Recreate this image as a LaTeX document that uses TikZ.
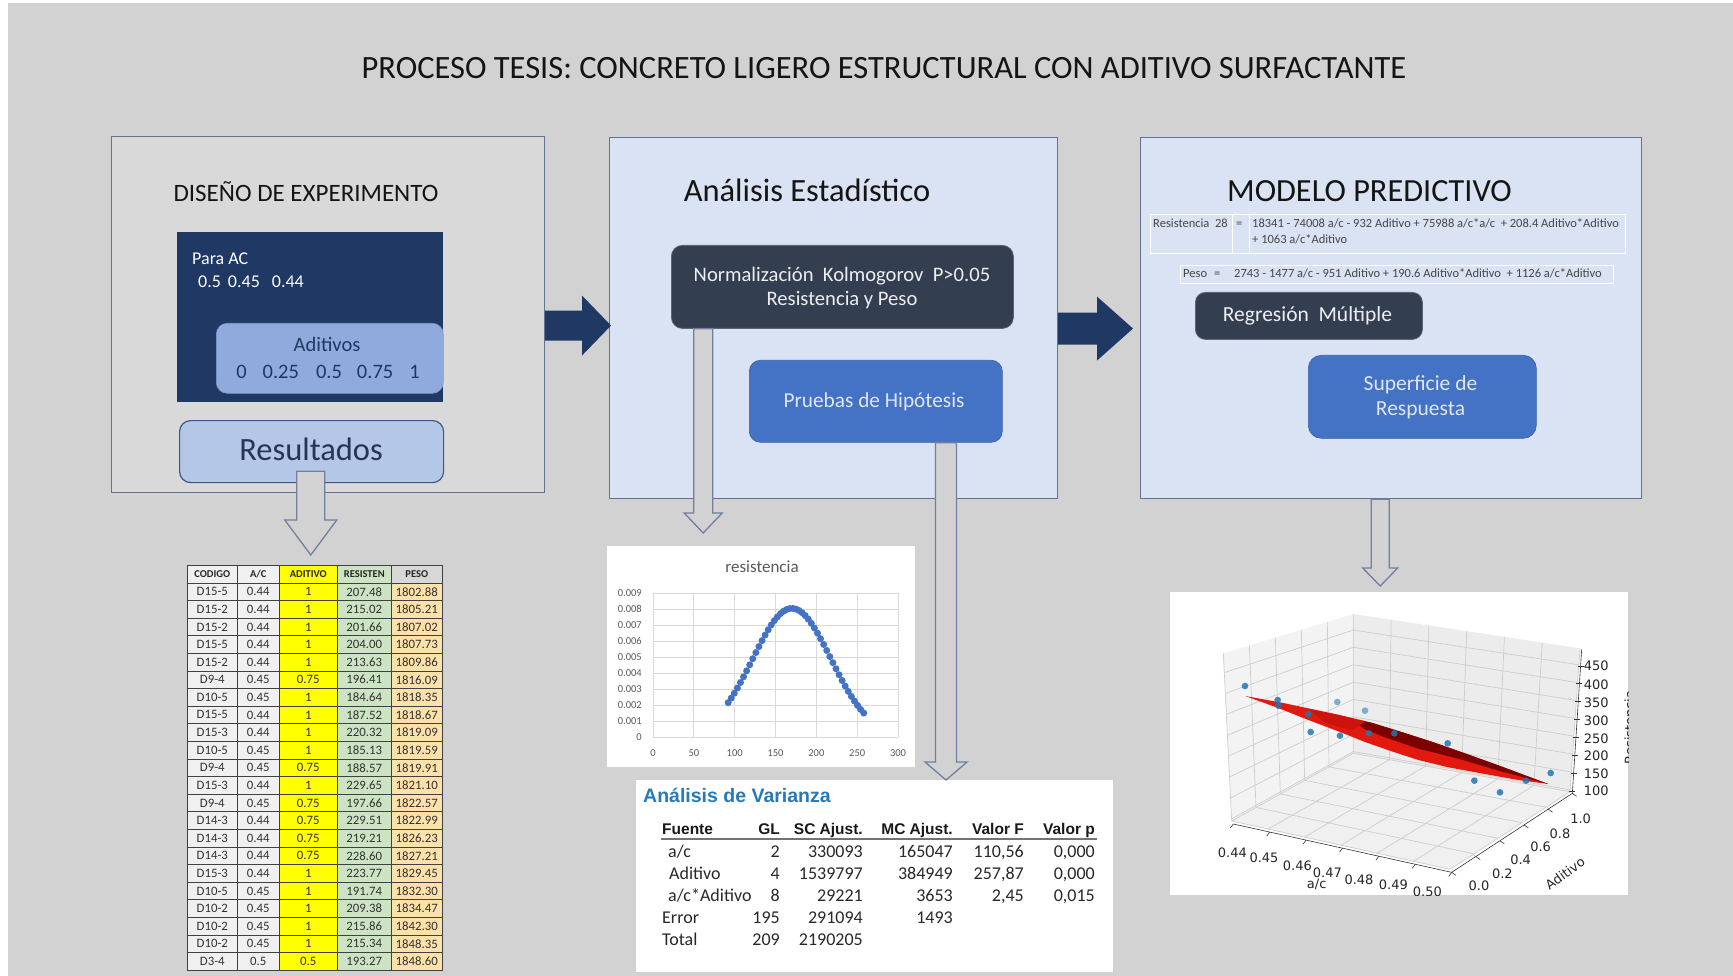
\documentclass[tikz,border=0pt]{standalone}
\usepackage{fontspec}
\setmainfont{Carlito}
\newfontfamily\arialf{Liberation Sans}
\newfontfamily\dvs{DejaVu Sans}
\usetikzlibrary{calc}
\newcommand\fsz[2]{\fontsize{#1}{#2}\selectfont}
\definecolor{txtblack}{RGB}{20,20,20}
\definecolor{bggrey}{RGB}{210,210,210}
\definecolor{boxgrey}{RGB}{217,217,217}
\definecolor{paleblue}{RGB}{218,227,243}
\definecolor{panelline}{RGB}{100,114,140}
\definecolor{navy}{RGB}{31,56,100}
\definecolor{slate}{RGB}{51,63,80}
\definecolor{midblue}{RGB}{68,114,196}
\definecolor{adblue}{RGB}{143,170,220}
\definecolor{resblue}{RGB}{180,199,231}
\definecolor{resline}{RGB}{62,86,135}
\definecolor{restext}{RGB}{38,52,85}
\definecolor{arrline}{RGB}{112,128,158}
\definecolor{lighttext}{RGB}{236,238,242}
\definecolor{bluetext}{RGB}{222,230,245}
\definecolor{eqtext}{RGB}{70,70,70}
\definecolor{tblgrey}{RGB}{240,240,240}
\definecolor{tblhgrey}{RGB}{215,215,215}
\definecolor{tblyellow}{RGB}{255,255,0}
\definecolor{tblgreen}{RGB}{205,228,196}
\definecolor{tblorange}{RGB}{252,226,170}
\definecolor{tbltext}{RGB}{50,50,50}
\definecolor{chgrid}{RGB}{217,217,217}
\definecolor{chtext}{RGB}{89,89,89}
\definecolor{mkblue}{RGB}{68,114,196}
\definecolor{anovablue}{RGB}{38,121,186}
\definecolor{antext}{RGB}{40,40,40}
\definecolor{paneA}{RGB}{243,243,243}
\definecolor{paneB}{RGB}{236,236,236}
\definecolor{paneC}{RGB}{240,240,240}
\definecolor{gridthree}{RGB}{205,205,205}
\definecolor{surfred}{RGB}{225,25,15}
\definecolor{surfdark}{RGB}{125,0,0}
\definecolor{ptblue}{RGB}{31,119,180}
% hollow down arrow: start, tip, half shaft, half head, head length
\newcommand\hollowdown[5]{%
  \draw[hollowarrow] let \p1=(#1), \p2=(#2) in
    (\x2-#3pt,\y1) -- (\x2+#3pt,\y1) -- (\x2+#3pt,\y2+#5pt) -- (\x2+#4pt,\y2+#5pt)
    -- (\x2,\y2) -- (\x2-#4pt,\y2+#5pt) -- (\x2-#3pt,\y2+#5pt) -- cycle;}
% filled right arrow: start, tip, half shaft, half head, head length
\newcommand\bigright[5]{%
  \fill[navy] let \p1=(#1), \p2=(#2) in
    (\x1,\y2+#3pt) -- (\x2-#5pt,\y2+#3pt) -- (\x2-#5pt,\y2+#4pt) -- (\x2,\y2)
    -- (\x2-#5pt,\y2-#4pt) -- (\x2-#5pt,\y2-#3pt) -- (\x1,\y2-#3pt) -- cycle;}
\begin{document}
\begin{tikzpicture}[x=1pt,y=-1pt,
  panel/.style={draw=panelline, line width=1.1pt, anchor=north west, inner sep=0pt},
  rbox/.style={rounded corners=11pt, anchor=north west, inner sep=0pt},
  lbl/.style={inner sep=0pt, anchor=base},
  hollowarrow/.style={draw=arrline, fill=bggrey, line width=1.3pt, line join=miter},
  cell/.style={draw=black!75, line width=0.6pt, inner sep=0pt, anchor=north west,
    minimum height=17.6pt, font=\fsz{12.8}{14}, text=tbltext},
  hcell/.style={cell, font=\bfseries\fsz{10.5}{12}, text=black!85},
  chlab/.style={inner sep=0pt, font=\fsz{10.5}{12}, text=chtext},
  antx/.style={inner sep=0pt, font=\fsz{18}{21}, text=antext},
  anhd/.style={inner sep=0pt, font=\arialf\bfseries\fsz{15.5}{18}, text=black!90},
  plab/.style={inner sep=0pt, font=\dvs\fsz{13}{15}, text=black!85},
  eq/.style={inner sep=0pt, anchor=base west, font=\fsz{12.5}{14}, text=eqtext},
]
\fill[white] (0,0) rectangle (1733,976);
\fill[bggrey] (8,3) rectangle (1733,976);
\useasboundingbox (0,0) rectangle (1733,976);

\node[lbl, font=\fsz{32.5}{37}, text=txtblack] (title) at (884,79)
  {PROCESO TESIS: CONCRETO LIGERO ESTRUCTURAL CON ADITIVO SURFACTANTE};

% ---------- panel 1
\node[panel, fill=boxgrey, minimum width=433.5pt, minimum height=356pt] (p1) at (110.5,136) {};
\node[lbl, font=\fsz{25}{30}, text=txtblack] (p1t) at (306,202) {DISEÑO DE EXPERIMENTO};
\node[fill=navy, anchor=north west, inner sep=0pt, minimum width=266pt, minimum height=170pt] (nv) at (177,232) {};
\node[lbl, anchor=base west, font=\fsz{18}{21}, text=white] (para) at (192,265) {Para AC};
\node[lbl, anchor=base west, font=\fsz{18}{21}, text=white] (acv) at (198,288)
  {0.5\hspace{7pt}0.45\hspace{12pt}0.44};
\node[rbox, fill=adblue, draw=adblue!85!navy, line width=0.6pt, minimum width=227pt, minimum height=70pt] (adb) at (216,323) {};
\node[lbl, font=\fsz{20.5}{24}, text=navy] (adt) at (327,352) {Aditivos};
\node[lbl, font=\fsz{20.5}{24}, text=navy] (adv) at (328,378)
  {0\hspace{16pt}0.25\hspace{17pt}0.5\hspace{15pt}0.75\hspace{16pt}1};
\node[rbox, fill=resblue, draw=resline, line width=1.2pt, minimum width=264pt, minimum height=62pt] (res) at (179,420) {};
\node[lbl, font=\fsz{32.5}{36}, text=restext] (rest) at (311,460) {Resultados};

% ---------- panel 2
\node[panel, fill=paleblue, minimum width=448pt, minimum height=361pt] (p2) at (609,137) {};
\node[lbl, font=\fsz{32.5}{37}, text=txtblack] (p2t) at (807,202) {Análisis Estadístico};
\node[rbox, fill=slate, draw=slate!80!white, line width=0.8pt, minimum width=342pt, minimum height=83pt] (norm) at (671,245) {};
\node[lbl, font=\fsz{20.6}{24}, text=lighttext] (normt) at (842,282) {Normalización\ \ Kolmogorov\ \ P>0.05};
\node[lbl, font=\fsz{20.6}{24}, text=lighttext] (normt2) at (842,306) {Resistencia y Peso};
\node[rbox, fill=midblue, draw=midblue!85!black, line width=0.6pt, minimum width=253pt, minimum height=82pt] (prb) at (749,360) {};
\node[lbl, font=\fsz{21.3}{24}, text=bluetext] (prbt) at (874,407) {Pruebas de Hipótesis};

% ---------- panel 3
\node[panel, fill=paleblue, minimum width=501.5pt, minimum height=361pt] (p3) at (1139.5,137) {};
\node[lbl, font=\fsz{32.3}{37}, text=txtblack] (p3t) at (1369.5,202) {MODELO PREDICTIVO};
\node[draw=white, line width=1pt, anchor=north west, inner sep=0pt, minimum width=475pt, minimum height=39pt] (eqR) at (1150,214) {};
\draw[white, line width=1pt] ($(eqR.north west)+(82,0)$) -- ($(eqR.south west)+(82,0)$);
\draw[white, line width=1pt] ($(eqR.north west)+(99,0)$) -- ($(eqR.south west)+(99,0)$);
\node[eq] (eqR1) at (1153,228) {Resistencia\ \ 28};
\node[eq] (eqR2) at (1236,228) {=};
\node[eq] (eqR3) at (1252,228) {18341 - 74008 a/c - 932 Aditivo + 75988 a/c*a/c\ \ + 208.4 Aditivo*Aditivo};
\node[eq] (eqR4) at (1252,244) {+ 1063 a/c*Aditivo};
\node[draw=white, line width=0.8pt, anchor=north west, inner sep=0pt, minimum width=433pt, minimum height=18pt] (eqP) at (1180,265) {};
\node[eq] (eqP1) at (1183,278) {Peso};
\node[eq] (eqP2) at (1214,278) {=};
\node[eq] (eqP3) at (1234,278) {2743 - 1477 a/c - 951 Aditivo + 190.6 Aditivo*Aditivo\ \ + 1126 a/c*Aditivo};
\node[rbox, rounded corners=10pt, fill=slate, draw=slate!80!white, line width=0.8pt, minimum width=227pt, minimum height=47pt] (reg) at (1195,292) {};
\node[lbl, font=\fsz{21.5}{24}, text=lighttext] (regt) at (1307.5,322) {Regresión\ \ Múltiple};
\node[rbox, rounded corners=13pt, fill=midblue, draw=midblue!85!black, line width=0.6pt, minimum width=228pt, minimum height=83pt] (sup) at (1308,355) {};
\node[lbl, font=\fsz{21.5}{24}, text=bluetext] (supt) at (1420.5,390) {Superficie de};
\node[lbl, font=\fsz{21.5}{24}, text=bluetext] (supt2) at (1420.5,415) {Respuesta};

% ---------- big arrows
\coordinate (r1s) at ($(p1.east)+(0,11)$);
\coordinate (r1t) at ($(p2.west)+(2,7.5)$);
\bigright{r1s}{r1t}{15}{30}{29}
\coordinate (r2s) at ($(p2.east)+(0,10.5)$);
\coordinate (r2t) at ($(p3.west)+(-6.5,10.5)$);
\bigright{r2s}{r2t}{16}{32}{36}

% ---------- data table
\node[hcell, fill=tblgrey, minimum width=50pt] (hc) at (187,565) {CODIGO};
\node[hcell, fill=tblgrey, minimum width=42pt] (ha) at (237,565) {A/C};
\node[hcell, fill=tblyellow, minimum width=58pt] (hd) at (279,565) {ADITIVO};
\node[hcell, fill=tblgreen, minimum width=54pt] (hr) at (337,565) {RESISTEN};
\node[hcell, fill=tblhgrey, minimum width=51pt] (hp) at (391,565) {PESO};
\foreach \cc/\aa/\dd/\rr/\pp [count=\i] in {
  D15-5/0.44/1/207.48/1802.88, D15-2/0.44/1/215.02/1805.21, D15-2/0.44/1/201.66/1807.02,
  D15-5/0.44/1/204.00/1807.73, D15-2/0.44/1/213.63/1809.86, D9-4/0.45/0.75/196.41/1816.09,
  D10-5/0.45/1/184.64/1818.35, D15-5/0.44/1/187.52/1818.67, D15-3/0.44/1/220.32/1819.09,
  D10-5/0.45/1/185.13/1819.59, D9-4/0.45/0.75/188.57/1819.91, D15-3/0.44/1/229.65/1821.10,
  D9-4/0.45/0.75/197.66/1822.57, D14-3/0.44/0.75/229.51/1822.99, D14-3/0.44/0.75/219.21/1826.23,
  D14-3/0.44/0.75/228.60/1827.21, D15-3/0.44/1/223.77/1829.45, D10-5/0.45/1/191.74/1832.30,
  D10-2/0.45/1/209.38/1834.47, D10-2/0.45/1/215.86/1842.30, D10-2/0.45/1/215.34/1848.35,
  D3-4/0.5/0.5/193.27/1848.60}{
  \pgfmathsetmacro\yy{565+\i*17.6}
  \node[cell, fill=tblgrey, minimum width=50pt] (tc\i) at (187,\yy) {\cc};
  \node[cell, fill=tblgrey, minimum width=42pt] (ta\i) at (237,\yy) {\aa};
  \node[cell, fill=tblyellow, minimum width=58pt] (td\i) at (279,\yy) {\dd};
  \node[cell, fill=tblgreen, minimum width=54pt] (tr\i) at (337,\yy) {\rr};
  \node[cell, fill=tblorange, minimum width=51pt] (tp\i) at (391,\yy) {\pp};
}

% ---------- chart
\node[fill=white, anchor=north west, inner sep=0pt, minimum width=308pt, minimum height=221pt] (chart) at (607,546) {};
\node[lbl, font=\fsz{17}{20}, text=chtext] (cht) at (762,572) {resistencia};
\foreach \k in {0,...,9} \draw[chgrid, line width=0.8pt] (653,737-16*\k) -- (898,737-16*\k);
\foreach \k in {0,...,6} \draw[chgrid, line width=0.8pt] (653+40.833*\k,593) -- (653+40.833*\k,737);
\foreach \t [count=\k from 0] in {0,0.001,0.002,0.003,0.004,0.005,0.006,0.007,0.008,0.009}
  \node[chlab, anchor=east] (cy\k) at (642,737-16*\k) {\t};
\foreach \t [count=\k from 0] in {0,50,100,150,200,250,300}
  \node[chlab, anchor=base] (cx\k) at (653+40.833*\k,756) {\t};
\foreach \k in {0,...,44}{
  \pgfmathsetmacro\vx{92+\k*166/44}
  \pgfmathsetmacro\px{653+\vx*0.8167}
  \pgfmathsetmacro\py{737-128.6*exp(0-((\vx-170)^2)/4608)}
  \fill[mkblue] (\px,\py) circle[radius=3.5];
}

% ---------- ANOVA
\node[fill=white, anchor=north west, inner sep=0pt, minimum width=477pt, minimum height=192pt] (anova) at (636,780) {};
\node[inner sep=0pt, anchor=base west, font=\arialf\bfseries\fsz{19.5}{22}, text=anovablue] (ant) at (643,802) {Análisis de Varianza};
\node[anhd, anchor=base west] (h1) at (662,834) {Fuente};
\node[anhd, anchor=base east] (h2) at (780,834) {GL};
\node[anhd, anchor=base east] (h3) at (863,834) {SC Ajust.};
\node[anhd, anchor=base east] (h4) at (953,834) {MC Ajust.};
\node[anhd, anchor=base east] (h5) at (1024,834) {Valor F};
\node[anhd, anchor=base east] (h6) at (1095,834) {Valor p};
\draw[black!55, line width=1.4pt] ($(h1.base west)+(-1,5)$) -- ($(h6.base east)+(2,5)$);
\node[antx, anchor=base west] (r1a) at (668,857) {a/c};
\node[antx, anchor=base east] (r1b) at (780,857) {2};
\node[antx, anchor=base east] (r1c) at (863,857) {330093};
\node[antx, anchor=base east] (r1d) at (953,857) {165047};
\node[antx, anchor=base east] (r1e) at (1024,857) {110,56};
\node[antx, anchor=base east] (r1f) at (1095,857) {0,000};
\node[antx, anchor=base west] (r2a) at (669,879) {Aditivo};
\node[antx, anchor=base east] (r2b) at (780,879) {4};
\node[antx, anchor=base east] (r2c) at (863,879) {1539797};
\node[antx, anchor=base east] (r2d) at (953,879) {384949};
\node[antx, anchor=base east] (r2e) at (1024,879) {257,87};
\node[antx, anchor=base east] (r2f) at (1095,879) {0,000};
\node[antx, anchor=base west] (r3a) at (668,901) {a/c*Aditivo};
\node[antx, anchor=base east] (r3b) at (780,901) {8};
\node[antx, anchor=base east] (r3c) at (863,901) {29221};
\node[antx, anchor=base east] (r3d) at (953,901) {3653};
\node[antx, anchor=base east] (r3e) at (1024,901) {2,45};
\node[antx, anchor=base east] (r3f) at (1095,901) {0,015};
\node[antx, anchor=base west] (r4a) at (662,923) {Error};
\node[antx, anchor=base east] (r4b) at (780,923) {195};
\node[antx, anchor=base east] (r4c) at (863,923) {291094};
\node[antx, anchor=base east] (r4d) at (953,923) {1493};
\node[antx, anchor=base west] (r5a) at (662,945) {Total};
\node[antx, anchor=base east] (r5b) at (780,945) {209};
\node[antx, anchor=base east] (r5c) at (863,945) {2190205};

% ---------- 3D plot
\node[fill=white, anchor=north west, inner sep=0pt, minimum width=458pt, minimum height=303pt] (plot) at (1170,592) {};
\begin{scope}[shift={(1165,590)}, x=0.33333pt, y=-0.33333pt]
\begin{scope}
\clip (15,6) rectangle (1390,915);
\fill[paneA] (200,693) -- (565,490) -- (565,72) -- (175,190) -- cycle;
\fill[paneB] (565,490) -- (1215,605) -- (1245,175) -- (565,72) -- cycle;
\fill[paneC] (200,693) -- (855,838) -- (1215,605) -- (565,490) -- cycle;
\begin{scope}[gridthree, line width=0.7pt]
\draw (200,693)--(565,490) (309.2,717.2)--(673.3,509.2) (418.3,741.3)--(781.7,528.3)
  (527.5,765.5)--(890,547.5) (636.7,789.7)--(998.3,566.7) (745.8,813.8)--(1106.7,585.8)
  (855,838)--(1215,605);
\draw (200,693)--(855,838) (273,652.4)--(927,791.4) (346,611.8)--(999,744.8)
  (419,571.2)--(1071,698.2) (492,530.6)--(1143,651.6) (565,490)--(1215,605);
\draw (200,693)--(175,190) (273,652.4)--(253,166.4) (346,611.8)--(331,142.8)
  (419,571.2)--(409,119.2) (492,530.6)--(487,95.6) (565,490)--(565,72);
\draw (199.7,686.7)--(565,484.8) (196.6,624.1)--(565,432.7) (193.5,561.2)--(565,380.5)
  (190.3,498.3)--(565,328.2) (187.2,436)--(565,276.4) (184.1,373.1)--(565,224.2)
  (181,310.2)--(565,171.9) (177.9,247.8)--(565,120.1);
\draw (673.3,509.2)--(678.3,89.2) (781.7,528.3)--(791.7,106.3) (890,547.5)--(905,123.5)
  (998.3,566.7)--(1018.3,140.7) (1106.7,585.8)--(1131.7,157.8) (1215,605)--(1245,175);
\draw (565,484.8)--(1215.4,599.6) (565,432.7)--(1219.1,546.1) (565,380.5)--(1222.9,492.3)
  (565,328.2)--(1226.6,438.6) (565,276.4)--(1230.3,385.3) (565,224.2)--(1234.1,331.5)
  (565,171.9)--(1237.8,277.8) (565,120.1)--(1241.6,224.5);
\end{scope}
% axes
\draw[black!80, line width=0.6pt] (205,702) -- (860,847) -- (1222,610) -- (1250,178);
\foreach \k in {0,...,6} \draw[black!80, line width=0.6pt] (205+109.17*\k,702+24.17*\k) -- ++(-9,12);
\foreach \k in {0,...,5} \draw[black!80, line width=0.6pt] (860+72.4*\k,847-47.4*\k) -- ++(13,9);
\foreach \t in {0.0125,0.137,0.262,0.387,0.511,0.636,0.761,0.885}
  \draw[black!80, line width=0.6pt] (1222+28*\t-9,610-432*\t) -- ++(18,0);
% points behind surface
\fill[ptblue, opacity=0.55] (517,336) circle[radius=10] (600,362) circle[radius=10];
% surface
\fill[surfred] (240,318) -- (350,338) -- (430,355) -- (520,374) -- (600,393) -- (700,423)
  -- (800,455) -- (900,490) -- (1000,526) -- (1080,556) -- (1150,582) -- (1060,570)
  -- (960,552) -- (850,532) -- (760,510) -- (680,484) -- (600,456) -- (520,424)
  -- (430,390) -- (340,354) -- cycle;
\fill[surfdark] (560,388) -- (620,398) -- (700,423) -- (800,455) -- (900,490) -- (1000,526)
  -- (1150,582) -- (1000,542) -- (880,506) -- (760,476) -- (660,442) -- (600,418) -- cycle;
\fill[surfred!80!surfdark] (430,357) -- (520,376) -- (600,396) -- (560,422) -- (480,398) -- cycle;
% points
\foreach \qx/\qy in {240/288, 338/330, 340/347, 430/372, 437/426, 525/437, 612/430,
  688/430, 848/460, 928/572, 1005/607, 1083/572, 1157/549}
  \fill[ptblue, opacity=0.85] (\qx,\qy) circle[radius=10];
% tick labels
\foreach \t/\qx/\qy [count=\k] in {0.44/202/787, 0.45/297/802, 0.46/397/827, 0.47/487/847,
  0.48/582/869, 0.49/685/885, 0.50/787/905}
  \node[plab] (ax\k) at (\qx,\qy) {\t};
\foreach \t/\qx/\qy [count=\k] in {0.0/942/888, 0.2/1012/850, 0.4/1067/810, 0.6/1127/770,
  0.8/1185/730, 1.0/1247/685}
  \node[plab] (ad\k) at (\qx,\qy) {\t};
\foreach \t/\qy [count=\k] in {450/227, 400/283, 350/338, 300/392, 250/445, 200/498,
  150/550, 100/603}
  \node[plab, anchor=west] (az\k) at (1256,\qy) {\t};
\node[plab] (axl) at (455,884) {a/c};
\node[plab, rotate=36] (adl) at (1200,850) {Aditivo};
\node[plab, rotate=90, anchor=base] (azl) at (1408,412) {Resistencia};
\end{scope}
\end{scope}

% ---------- hollow arrows
\coordinate (aAs) at ($(res.south)+(-0.5,-12)$);
\coordinate (aAt) at ($(hd.north)+(2.5,-10)$);
\hollowdown{aAs}{aAt}{14}{26}{35}
\coordinate (aBs) at ($(norm.south west)+(32,0)$);
\coordinate (aBt) at ($(chart.north)+(-58,-13)$);
\hollowdown{aBs}{aBt}{9.5}{19}{20}
\coordinate (aCs) at ($(prb.south east)+(-56,0)$);
\coordinate (aCt) at ($(anova.north west)+(310,0)$);
\hollowdown{aCs}{aCt}{10.5}{21}{18}
\coordinate (aDs) at ($(p3.south)+(-10.25,0)$);
\coordinate (aDt) at ($(plot.north)+(-19,-6)$);
\hollowdown{aDs}{aDt}{9}{17.5}{18}
\end{tikzpicture}
\end{document}
